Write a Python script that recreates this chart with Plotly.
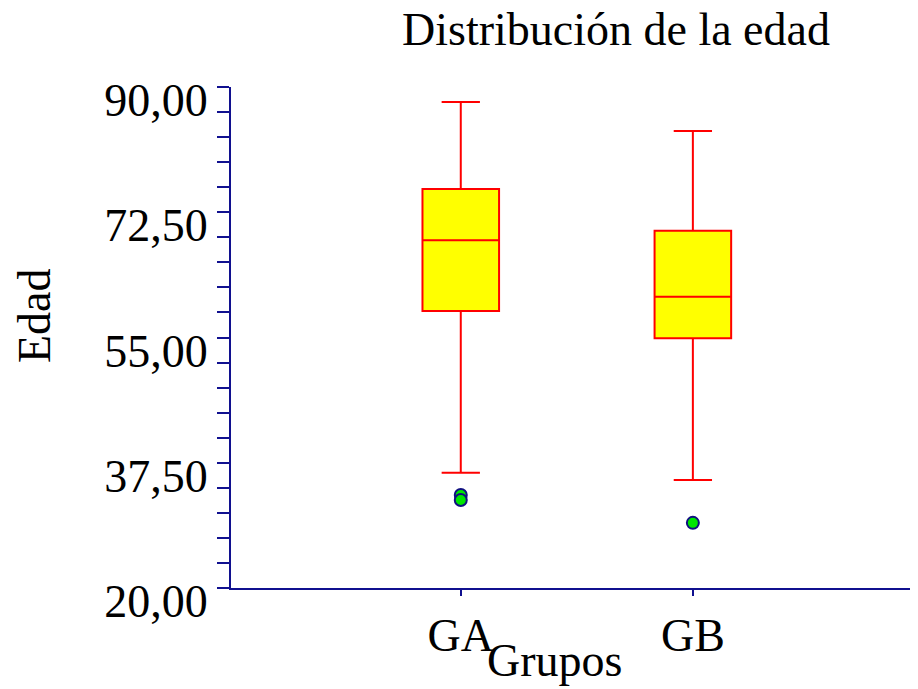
import plotly.graph_objects as go

groups = ["GA", "GB"]
lower_whisker = [36.1, 35.1]
q1 = [58.7, 54.9]
median = [68.6, 60.7]
q3 = [75.75, 69.9]
upper_whisker = [87.9, 83.85]
outlier_groups = ["GA", "GA", "GB"]
outlier_values = [33.0, 32.3, 29.1]
y_tick_vals = [20, 37.5, 55, 72.5, 90]
y_tick_text = ["20,00", "37,50", "55,00", "72,50", "90,00"]

FONT = "Liberation Serif"
AXIS = "#10108F"

fig = go.Figure()
for i, g in enumerate(groups):
    fig.add_trace(go.Box(
        x=[g], q1=[q1[i]], median=[median[i]], q3=[q3[i]],
        lowerfence=[lower_whisker[i]], upperfence=[upper_whisker[i]],
        fillcolor="#FFFF00", line=dict(color="#FF0000", width=2),
        width=0.33, whiskerwidth=0.5, boxpoints=False, showlegend=False,
    ))
fig.add_trace(go.Scatter(
    x=outlier_groups, y=outlier_values, mode="markers",
    marker=dict(color="#00E600", size=12, line=dict(color="#101080", width=2)),
    showlegend=False,
))

fig.update_layout(
    width=910, height=681,
    margin=dict(l=223, r=0, t=79, b=101),
    paper_bgcolor="white", plot_bgcolor="white",
    font=dict(family=FONT, color="black"),
    title=dict(text="Distribución de la edad", font=dict(size=46, family=FONT),
               x=(616 - 231) / 687, xref="paper", xanchor="center",
               y=1 - 21 / 681, yref="container", yanchor="middle"),
    annotations=[
        dict(text="Grupos", x=(554 - 231) / 687, xref="paper", y=-72 / 501, yref="paper",
             xanchor="center", yanchor="middle", showarrow=False, font=dict(size=46, family=FONT)),
        dict(text="Edad", x=-197 / 687, xref="paper", y=(588 - 315) / 501, yref="paper",
             xanchor="center", yanchor="middle", textangle=-90, showarrow=False,
             font=dict(size=46, family=FONT)),
    ],
)
fig.update_xaxes(
    type="category", range=[-0.99, 1.97], showline=True, linecolor=AXIS, linewidth=2,
    ticks="outside", ticklen=6, tickcolor=AXIS, tickwidth=2,
    tickfont=dict(size=46, family=FONT), showgrid=False, zeroline=False,
)
fig.update_yaxes(
    range=[20, 90], tickvals=y_tick_vals, ticktext=y_tick_text,
    showline=True, linecolor=AXIS, linewidth=2,
    ticks="outside", ticklen=12, tickcolor=AXIS, tickwidth=2, ticklabelshift=13,
    minor=dict(dtick=3.5, tick0=20, ticks="outside", ticklen=12, tickcolor=AXIS, tickwidth=2, showgrid=False),
    tickfont=dict(size=46, family=FONT), showgrid=False, zeroline=False,
)
fig.write_html("out.html")
